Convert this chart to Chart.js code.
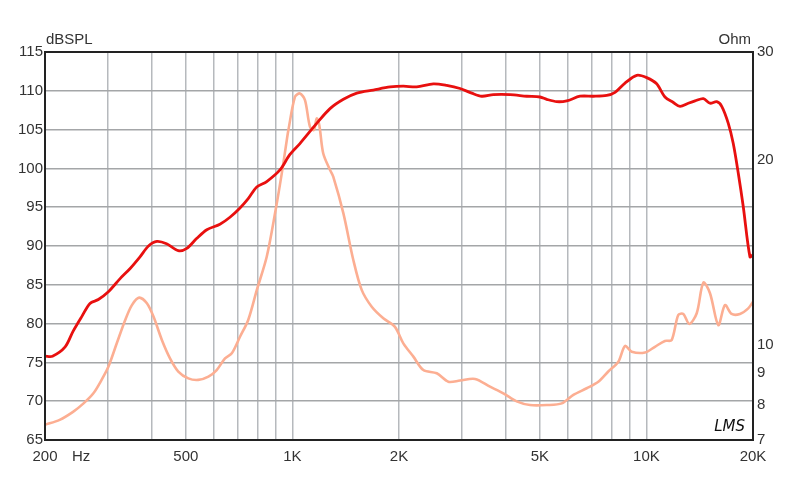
<!DOCTYPE html>
<html>
<head>
<meta charset="utf-8">
<script src="https://cdn.jsdelivr.net/npm/chart.js@4.4.0/dist/chart.umd.min.js"></script>
<style>
html, body { margin: 0; padding: 0; background: #fff; }
#wrap { width: 800px; height: 484px; }
</style>
</head>
<body>
<div id="wrap"><canvas id="fr-chart"></canvas></div>
<script>
// frequency response (dB SPL)
const splFreq = [200, 210, 228, 240, 254, 268, 283, 302, 326, 348, 371, 392, 414, 441, 476, 503, 537, 573, 624, 666,
    711, 750, 793, 846, 922, 984, 1050, 1171, 1277, 1393, 1520, 1692, 1888, 2057, 2244, 2500, 2728, 2975, 3210, 3425,
    3694, 4119, 4591, 5005, 5228, 5581, 5954, 6493, 7078, 7724, 8152, 8700, 9389, 10015, 10690, 11280, 11910, 12440,
    13130, 13720, 14480, 15120, 15800, 16320, 17030, 17590, 18170, 18770, 19610, 20000];
const splValues = [75.8, 75.8, 77.0, 79.0, 80.9, 82.6, 83.1, 84.1, 85.8, 87.1, 88.6, 90.0, 90.6, 90.3, 89.4, 89.7, 91.0, 92.1, 92.8, 93.7,
    94.9, 96.1, 97.6, 98.3, 99.8, 101.8, 103.2, 105.8, 107.7, 108.9, 109.7, 110.1, 110.5, 110.6, 110.5, 110.9, 110.7, 110.3, 109.7, 109.3,
    109.5, 109.5, 109.3, 109.2, 108.9, 108.6, 108.7, 109.3, 109.3, 109.4, 109.8, 111.0, 112.0, 111.7, 110.9, 109.2, 108.5, 108.0,
    108.4, 108.7, 109.0, 108.4, 108.6, 108.0, 105.8, 103.2, 99.4, 95.1, 88.6, 88.9];

// impedance (Ohm)
const impFreq = [200, 220, 240, 257, 274, 289, 302, 319, 337, 352, 369, 388, 405, 428, 451, 476, 508, 542, 579, 611,
    645, 674, 711, 750, 793, 846, 893, 933, 964, 974, 1017, 1050, 1085, 1121, 1150, 1171, 1191, 1222, 1277, 1304,
    1393, 1486, 1570, 1675, 1806, 1948, 2057, 2196, 2343, 2557, 2757, 2975, 3280, 3615, 3942, 4301, 4690, 5228, 5767, 6217,
    6781, 7313, 7802, 8330, 8700, 9087, 9908, 10570, 11280, 11780, 12300, 12710, 13220, 13870, 14480, 15120, 15960, 16670,
    17410, 18370, 19390, 20000];
const impValues = [7.41, 7.55, 7.78, 8.03, 8.34, 8.77, 9.21, 10.06, 10.98, 11.61, 11.94, 11.69, 11.12, 10.18, 9.51, 9.05, 8.82, 8.77, 8.88, 9.10,
    9.51, 9.69, 10.31, 10.98, 12.28, 13.92, 16.38, 19.03, 21.57, 22.39, 25.37, 25.68, 25.05, 22.66, 22.39, 23.39, 22.8, 20.5, 19.27, 18.8,
    16.38, 13.75, 12.28, 11.54, 11.05, 10.70, 10.06, 9.57, 9.10, 8.99, 8.71, 8.75, 8.80, 8.55, 8.34, 8.09, 7.98, 7.98, 8.03, 8.29,
    8.50, 8.71, 9.05, 9.39, 9.96, 9.75, 9.72, 9.93, 10.15, 10.18, 11.19, 11.23, 10.82, 11.26, 12.63, 12.14, 10.77, 11.61,
    11.23, 11.23, 11.47, 11.76];

// axis ticks
const freqGrid = [200, 300, 400, 500, 600, 700, 800, 900, 1000, 2000, 3000, 4000, 5000, 6000, 7000, 8000, 9000, 10000, 20000];
const freqLabels = { 200: "200", 500: "500", 1000: "1K", 2000: "2K", 5000: "5K", 10000: "10K", 20000: "20K" };
const ohmTicks = [7, 8, 9, 10, 20, 30];

const tickFont = { family: "'Liberation Sans', Arial, sans-serif", size: 15 };

// frame and extra labels
const framePlugin = {
    id: "frame",
    afterDraw(chart) {
        const { ctx, chartArea: a } = chart;
        ctx.save();
        ctx.strokeStyle = "#222";
        ctx.lineWidth = 2;
        ctx.strokeRect(a.left, a.top, a.right - a.left, a.bottom - a.top);
        ctx.fillStyle = "#333";
        ctx.font = "15px 'Liberation Sans', Arial, sans-serif";
        ctx.textBaseline = "alphabetic";
        ctx.textAlign = "left";
        ctx.fillText("dBSPL", a.left + 1, a.top - 8);
        ctx.fillText("Hz", 72, 461);
        ctx.textAlign = "right";
        ctx.fillText("Ohm", a.right - 2, a.top - 8);
        ctx.fillStyle = "#111";
        ctx.font = "italic 15px 'DejaVu Sans', sans-serif";
        ctx.fillText("LMS", a.right - 8, a.bottom - 9);
        ctx.restore();
    },
};

const ctx = document.getElementById("fr-chart").getContext("2d");
new Chart(ctx, {
    type: "line",
    data: {
        datasets: [
            {
                label: "dBSPL",
                data: splFreq.map((f, i) => ({ x: f, y: splValues[i] })),
                borderColor: "#e8100f",
                borderWidth: 2.8,
                pointRadius: 0,
                tension: 0.3,
                yAxisID: "y",
                order: 1,
            },
            {
                label: "Ohm",
                data: impFreq.map((f, i) => ({ x: f, y: impValues[i] })),
                borderColor: "#fcae92",
                borderWidth: 2.6,
                pointRadius: 0,
                tension: 0.3,
                yAxisID: "y2",
                order: 2,
            },
        ],
    },
    options: {
        responsive: true,
        maintainAspectRatio: false,
        animation: false,
        layout: { padding: { top: 52, left: 0, right: 0, bottom: 0 } },
        plugins: { legend: { display: false }, tooltip: { enabled: false } },
        scales: {
            x: {
                type: "logarithmic",
                min: 200,
                max: 20000,
                afterBuildTicks: (s) => { s.ticks = freqGrid.map((v) => ({ value: v })); },
                afterFit: (s) => { s.height = 44; },
                ticks: {
                    autoSkip: false,
                    maxRotation: 0,
                    padding: 8,
                    color: "#333",
                    font: tickFont,
                    callback: (v) => freqLabels[v] || "",
                },
                grid: { color: "#b6b9bd", lineWidth: 1.5, drawTicks: false },
                border: { display: false },
            },
            y: {
                position: "left",
                min: 65,
                max: 115,
                afterFit: (s) => { s.width = 45; },
                ticks: { stepSize: 5, padding: 2, color: "#333", font: tickFont },
                grid: { color: "#a4a6a8", lineWidth: 1.5, drawTicks: false },
                border: { display: false },
            },
            y2: {
                type: "logarithmic",
                position: "right",
                min: 7,
                max: 30,
                afterBuildTicks: (s) => { s.ticks = ohmTicks.map((v) => ({ value: v })); },
                afterFit: (s) => { s.width = 47; },
                ticks: { padding: 4, color: "#333", font: tickFont, callback: (v) => String(v) },
                grid: { drawOnChartArea: false, drawTicks: false },
                border: { display: false },
            },
        },
    },
    plugins: [framePlugin],
});
</script>
</body>
</html>
